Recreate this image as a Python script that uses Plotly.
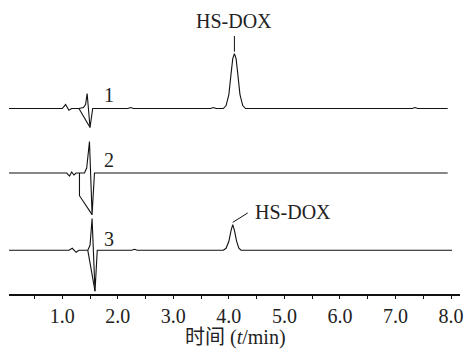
import plotly.graph_objects as go

# ---- data (time in min, signal in arbitrary units relative to each trace baseline) ----
t1 = [0.04, 1.00, 1.06, 1.12, 1.17, 1.30, 1.38, 1.42, 1.448, 1.50, 1.548, 2.18, 2.23, 2.28,
      3.67, 3.72, 3.77, 3.90, 3.95, 4.00, 4.04, 4.07, 4.10, 4.13, 4.16, 4.20, 4.25, 4.30,
      7.30, 7.35, 7.40, 7.94]
s1 = [0, 0, 4, -1.7, 0, 0, 1, 4, 15, -19, 0, 0, 1, 0,
      0, 1, 0, 0, 3, 14, 35, 50, 55, 50, 35, 14, 3, 0,
      0, 1, 0, 0]

t2 = [0.04, 1.08, 1.13, 1.17, 1.21, 1.25, 1.40, 1.44, 1.49, 1.537, 1.58, 7.94]
s2 = [0, 0, -3, 1, -2, 0, 0, 5, 31.6, -41.7, 0, 0]

t3 = [0.04, 1.12, 1.18, 1.25, 1.30, 1.46, 1.50, 1.537, 1.59, 1.63, 2.25, 2.30, 2.35,
      3.60, 3.66, 3.72, 3.90, 3.95, 4.00, 4.04, 4.07, 4.10, 4.14, 4.18, 4.22, 8.02]
s3 = [0, 0, 2, -2, 0, 0, 5, 31.7, -41, 0, 0, 1, 0,
      0, 0.5, 0, 0, 2, 9, 20, 25.7, 20, 9, 2, 0, 0]

# integration marks (drawn by the data system)
mark1_t = [1.30, 1.50]
mark1_s = [0, -19]
mark2_t = [1.31, 1.31, 1.537]
mark2_s = [0, -22.7, -41.7]
mark3_t = [1.46, 1.59]
mark3_s = [0, -41]

offsets = [185.8, 121.2, 43.8]
trace_labels = ["1", "2", "3"]
label_t = 1.834
label_dy = [13.7, 12.6, 11.7]

peak_name = "HS-DOX"
tick_vals = [0.5, 1.0, 1.5, 2.0, 2.5, 3.0, 3.5, 4.0, 4.5, 5.0, 5.5, 6.0, 6.5, 7.0, 7.5, 8.0]
tick_text = ["", "1.0", "", "2.0", "", "3.0", "", "4.0", "", "5.0", "", "6.0", "", "7.0", "", "8.0"]

FONT = "Liberation Serif"
TXT = "#222222"
LINE = dict(color="#111111", width=1.1)

fig = go.Figure()
series = [(t1, s1, mark1_t, mark1_s), (t2, s2, mark2_t, mark2_s), (t3, s3, mark3_t, mark3_s)]
for (tt, ss, mt, ms), off in zip(series, offsets):
    fig.add_trace(go.Scatter(x=tt, y=[v + off for v in ss], mode="lines",
                             line=LINE, showlegend=False, hoverinfo="skip"))
    fig.add_trace(go.Scatter(x=mt, y=[v + off for v in ms], mode="lines",
                             line=LINE, showlegend=False, hoverinfo="skip"))

# trace numbers
for lab, off, dy in zip(trace_labels, offsets, label_dy):
    fig.add_annotation(x=label_t, y=off + dy, text=lab, showarrow=False,
                       font=dict(family=FONT, size=20, color=TXT),
                       xanchor="center", yanchor="middle")

# peak labels and their leader lines
fig.add_annotation(x=4.09, y=offsets[0] + 88, text=peak_name, showarrow=False,
                   font=dict(family=FONT, size=20, color=TXT),
                   xanchor="center", yanchor="middle")
fig.add_trace(go.Scatter(x=[4.10, 4.10], y=[offsets[0] + 57, offsets[0] + 72.7], mode="lines",
                         line=dict(color="#111111", width=1), showlegend=False, hoverinfo="skip"))
fig.add_trace(go.Scatter(x=[4.07, 4.34], y=[offsets[2] + 28, offsets[2] + 37.4], mode="lines",
                         line=dict(color="#111111", width=1), showlegend=False, hoverinfo="skip"))
fig.add_annotation(x=4.44, y=offsets[2] + 38, text=peak_name, showarrow=False,
                   font=dict(family=FONT, size=20, color=TXT),
                   xanchor="left", yanchor="middle")

fig.add_annotation(xref="paper", yref="paper", x=0.503, y=-0.157,
                   text="时间 (<i>t</i>/min)", showarrow=False,
                   font=dict(family="Liberation Serif, Noto Sans CJK SC", size=20, color=TXT),
                   xanchor="center", yanchor="middle")

fig.update_layout(
    width=470, height=349,
    margin=dict(l=9, r=7, t=20, b=54.5),
    paper_bgcolor="white", plot_bgcolor="white",
    font=dict(family=FONT),
    xaxis=dict(range=[0.041, 8.162], showgrid=False, zeroline=False,
               showline=True, linecolor="#111111", linewidth=1.5,
               ticks="outside", ticklen=3, tickcolor="#111111", tickwidth=1,
               tickvals=tick_vals, ticktext=tick_text,
               tickfont=dict(family=FONT, size=20, color=TXT)),
    yaxis=dict(range=[0, 274.5], visible=False),
)

fig.write_html("out.html", config={"displayModeBar": False},
               post_script="document.body.style.margin='0';")
